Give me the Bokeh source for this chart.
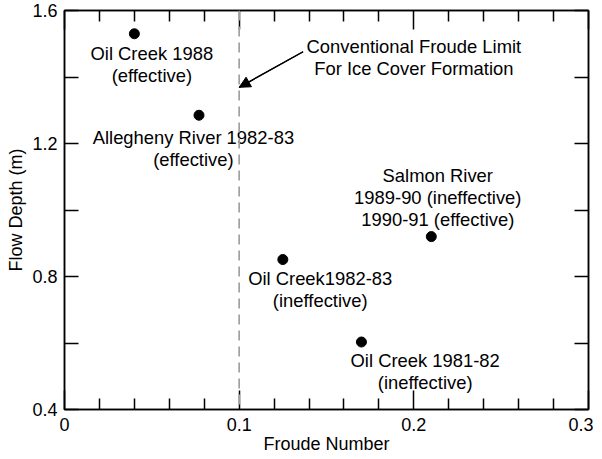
from bokeh.plotting import figure
from bokeh.models import (LinearAxis, FixedTicker, ColumnDataSource, Arrow,
                          NormalHead, Span)
from bokeh.core.properties import value
from bokeh.embed import file_html
from bokeh.resources import INLINE

# ---- data ----
froude = [0.040, 0.077, 0.125, 0.170, 0.210]
depth = [1.53, 1.285, 0.851, 0.603, 0.920]
site_labels = [
    "Oil Creek 1988\n(effective)",
    "Allegheny River 1982-83\n(effective)",
    "Oil Creek1982-83\n(ineffective)",
    "Oil Creek 1981-82\n(ineffective)",
    "Salmon River\n1989-90 (ineffective)\n1990-91 (effective)",
]
label_x = [0.0500, 0.0738, 0.1464, 0.2065, 0.2137]
label_y = [1.437, 1.184, 0.760, 0.515, 1.037]

froude_limit = 0.1
limit_text = "Conventional Froude Limit\nFor Ice Cover Formation"
limit_text_x = 0.200
limit_text_y = 1.460
arrow_x_start, arrow_y_start = 0.1366, 1.476
arrow_y_end = 1.369

x_major = [0.0, 0.1, 0.2, 0.3]
x_minor = [0.02, 0.04, 0.06, 0.08, 0.12, 0.14, 0.16, 0.18, 0.22, 0.24, 0.26, 0.28]
x_tick_labels = {0.0: "0", 0.1: "0.1", 0.2: "0.2", 0.3: "0.3"}
y_major = [0.4, 0.8, 1.2, 1.6]
y_minor = [0.6, 1.0, 1.4]
y_tick_labels = {0.4: "0.4", 0.8: "0.8", 1.2: "1.2", 1.6: "1.6"}

FONT = "Liberation Sans"
FS = "18px"
FS_NOTE = "18.4px"

p = figure(output_backend="svg", toolbar_location=None,
           x_range=(0, 0.3), y_range=(0.4, 1.6),
           width=593, height=456,
           x_axis_label="Froude Number", y_axis_label="Flow Depth (m)",
           min_border_left=64, min_border_top=10, min_border_right=5,
           min_border_bottom=46)
p.background_fill_color = "white"
p.border_fill_color = "white"
p.outline_line_color = "black"
p.outline_line_width = 1.5
p.xgrid.visible = False
p.ygrid.visible = False

def style_axis(ax, major, minor, labels, major_len, minor_len, show_labels=True):
    ax.ticker = FixedTicker(ticks=major, minor_ticks=minor)
    ax.major_tick_in = major_len
    ax.major_tick_out = 0
    ax.minor_tick_in = minor_len
    ax.minor_tick_out = 0
    ax.axis_line_width = 1.5
    ax.major_tick_line_width = 1.5
    ax.minor_tick_line_width = 1.5
    ax.axis_line_color = "black"
    ax.major_tick_line_color = "black"
    ax.minor_tick_line_color = "black"
    ax.major_label_text_font = FONT
    ax.major_label_text_color = "black"
    ax.axis_label_text_font = FONT
    ax.axis_label_text_font_style = "normal"
    ax.axis_label_text_color = "black"
    ax.axis_label_text_font_size = FS
    if show_labels:
        ax.major_label_overrides = labels
        ax.major_label_text_font_size = FS
    else:
        ax.major_label_overrides = {k: "" for k in labels}
        ax.major_label_text_font_size = "1px"
        ax.major_label_standoff = 0
        ax.axis_label_standoff = 0

xb = p.xaxis[0]
yl = p.yaxis[0]
style_axis(xb, x_major, x_minor, x_tick_labels, 19, 11)
style_axis(yl, y_major, y_minor, y_tick_labels, 14, 14)
xb.major_label_standoff = 8
xb.axis_label_standoff = 0
yl.major_label_standoff = 7
yl.axis_label_standoff = 3

xt = LinearAxis()
style_axis(xt, x_major, x_minor, x_tick_labels, 19, 11, show_labels=False)
p.add_layout(xt, "above")
yr = LinearAxis()
style_axis(yr, y_major, y_minor, y_tick_labels, 14, 14, show_labels=False)
p.add_layout(yr, "right")

# conventional Froude limit
p.add_layout(Span(location=froude_limit, dimension="height",
                  line_color="#a0a0a0", line_width=1.7, line_dash="10 6"))

# arrow shaft (drawn first)
p.segment(x0=[arrow_x_start], y0=[arrow_y_start], x1=[froude_limit],
          y1=[arrow_y_end], line_color="black", line_width=1.3)

# points
src = ColumnDataSource(dict(x=froude, y=depth))
p.scatter("x", "y", source=src, size=10, color="black")

# labels
lsrc = ColumnDataSource(dict(x=label_x, y=label_y, text=site_labels))
p.text("x", "y", text="text", source=lsrc, text_align="center",
       text_baseline="middle", text_font=value(FONT), text_font_size=FS_NOTE,
       text_line_height=1.05, text_color="black")

p.text(x=[limit_text_x], y=[limit_text_y], text=[limit_text],
       text_align="center", text_baseline="middle", text_font=value(FONT),
       text_font_size=FS_NOTE, text_line_height=1.05, text_color="black")

# arrow head
p.add_layout(Arrow(x_start=arrow_x_start, y_start=arrow_y_start,
                   x_end=froude_limit, y_end=arrow_y_end,
                   line_color="black", line_width=1.3,
                   end=NormalHead(size=11, fill_color="black",
                                  line_color="black", line_width=1)))

open("out.html", "w").write(file_html(p, INLINE))
